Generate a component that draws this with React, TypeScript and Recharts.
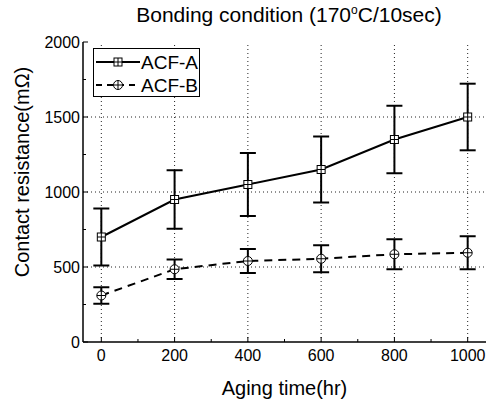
import React from "react";
import {
  ErrorBar,
  Line,
  LineChart,
  ReferenceLine,
  XAxis,
  YAxis,
} from "recharts";

const agingHours = [0, 200, 400, 600, 800, 1000];
const acfA = [700, 950, 1050, 1150, 1350, 1500];
const acfAErr = [190, 195, 210, 220, 225, 222];
const acfB = [310, 485, 540, 555, 585, 595];
const acfBErr = [55, 65, 80, 90, 100, 110];

const xTicks = [0, 100, 200, 300, 400, 500, 600, 700, 800, 900, 1000];
const xMajor = [0, 200, 400, 600, 800, 1000];
const yTicks = [0, 250, 500, 750, 1000, 1250, 1500, 1750, 2000];
const yGrid = [500, 1000, 1500];

const data = agingHours.map((t, i) => ({
  t,
  a: acfA[i],
  aErr: acfAErr[i],
  b: acfB[i],
  bErr: acfBErr[i],
}));

const FONT = "'Liberation Sans', Arial, sans-serif";

function SquareDot({ cx, cy }: any) {
  if (cx == null || cy == null) return null;
  return (
    <g>
      <rect x={cx - 4} y={cy - 4} width={8} height={8} fill="#fff" stroke="#000" strokeWidth={1} />
      <line x1={cx - 4} x2={cx + 4} y1={cy} y2={cy} stroke="#000" strokeWidth={1} />
      <line x1={cx} x2={cx} y1={cy - 4} y2={cy + 4} stroke="#000" strokeWidth={1} />
    </g>
  );
}

function CircleDot({ cx, cy }: any) {
  if (cx == null || cy == null) return null;
  return (
    <g>
      <circle cx={cx} cy={cy} r={4.5} fill="#fff" stroke="#000" strokeWidth={1} />
      <line x1={cx - 4.5} x2={cx + 4.5} y1={cy} y2={cy} stroke="#000" strokeWidth={1} />
      <line x1={cx} x2={cx} y1={cy - 4.5} y2={cy + 4.5} stroke="#000" strokeWidth={1} />
    </g>
  );
}

function XTick({ x, y, payload }: any) {
  const major = xMajor.includes(payload.value);
  return (
    <g>
      <line x1={x} x2={x} y1={y} y2={y - (major ? 5 : 3)} stroke="#000" strokeWidth={1} />
      {major && (
        <text x={x} y={y + 19} textAnchor="middle" fontSize={16} fontFamily={FONT} fill="#000">
          {payload.value}
        </text>
      )}
    </g>
  );
}

function YTick({ x, y, payload }: any) {
  const major = payload.value % 500 === 0;
  return (
    <g>
      <line x1={x} x2={x + (major ? 5 : 3)} y1={y} y2={y} stroke="#000" strokeWidth={1} />
      {major && (
        <text x={x - 3} y={y + 6} textAnchor="end" fontSize={16} fontFamily={FONT} fill="#000">
          {payload.value}
        </text>
      )}
    </g>
  );
}

function LegendBox() {
  return (
    <div
      style={{
        position: "absolute",
        left: 93,
        top: 48,
        width: 107,
        height: 49,
        border: "1px solid #000",
        background: "#fff",
        boxSizing: "border-box",
      }}
    >
      <svg width={105} height={47} style={{ display: "block" }}>
        <line x1={2} x2={46} y1={13} y2={13} stroke="#000" strokeWidth={2} />
        <SquareDot cx={24} cy={13} />
        <text x={47} y={20} fontSize={19} fontFamily={FONT} fill="#000">ACF-A</text>
        <line x1={2} x2={46} y1={36} y2={36} stroke="#000" strokeWidth={2} strokeDasharray="6 5" />
        <CircleDot cx={24} cy={36} />
        <text x={47} y={43} fontSize={19} fontFamily={FONT} fill="#000">ACF-B</text>
      </svg>
    </div>
  );
}

export default function App() {
  return (
    <div style={{ position: "absolute", left: 0, top: 0, width: 488, height: 403, background: "#fff", fontFamily: FONT }}>
      <div
        style={{
          position: "absolute",
          left: 0,
          width: 578,
          top: 3,
          textAlign: "center",
          fontSize: 21,
          color: "#000",
          whiteSpace: "nowrap",
        }}
      >
        Bonding condition (170<sup style={{ fontSize: 12 }}>o</sup>C/10sec)
      </div>
      <div
        style={{
          position: "absolute",
          left: 22,
          top: 172,
          transform: "translate(-50%, -50%) rotate(-90deg)",
          fontSize: 20,
          whiteSpace: "nowrap",
          color: "#000",
        }}
      >
        Contact resistance(mΩ)
      </div>
      <LineChart
        width={488}
        height={403}
        data={data}
        margin={{ top: 42, right: 2, bottom: 0, left: 0 }}
        style={{ position: "absolute", left: 0, top: 0 }}
      >
        <XAxis
          dataKey="t"
          type="number"
          domain={[-50, 1050]}
          ticks={xTicks}
          interval={0}
          tick={<XTick />}
          tickLine={false}
          tickSize={0}
          tickMargin={0}
          height={61}
          allowDataOverflow
          axisLine={{ stroke: "#000", strokeWidth: 1.5 }}
          label={{ value: "Aging time(hr)", position: "insideBottom", offset: 8, fontSize: 20, fill: "#000", fontFamily: FONT }}
        />
        <XAxis
          xAxisId="top"
          orientation="top"
          type="number"
          domain={[-50, 1050]}
          tick={false}
          tickLine={false}
          height={0}
          axisLine={{ stroke: "#000", strokeWidth: 1.5 }}
        />
        <YAxis
          type="number"
          domain={[0, 2000]}
          ticks={yTicks}
          interval={0}
          tick={<YTick />}
          tickLine={false}
          tickSize={0}
          tickMargin={0}
          width={83}
          axisLine={{ stroke: "#000", strokeWidth: 1.5 }}
        />
        <YAxis
          yAxisId="right"
          orientation="right"
          type="number"
          domain={[0, 2000]}
          tick={false}
          tickLine={false}
          width={0}
          axisLine={{ stroke: "#000", strokeWidth: 1.5 }}
        />
        {xMajor.map((v) => (
          <ReferenceLine key={"gx" + v} x={v} stroke="#222" strokeDasharray="1 3" strokeWidth={1} />
        ))}
        {yGrid.map((v) => (
          <ReferenceLine key={"gy" + v} y={v} stroke="#222" strokeDasharray="1 3" strokeWidth={1} />
        ))}
        <Line
          dataKey="a"
          stroke="#000"
          strokeWidth={2}
          dot={<SquareDot />}
          activeDot={false}
          isAnimationActive={false}
        >
          <ErrorBar dataKey="aErr" direction="y" width={8} stroke="#000" strokeWidth={2} />
        </Line>
        <Line
          dataKey="b"
          stroke="#000"
          strokeWidth={2}
          strokeDasharray="8 6"
          dot={<CircleDot />}
          activeDot={false}
          isAnimationActive={false}
        >
          <ErrorBar dataKey="bErr" direction="y" width={8} stroke="#000" strokeWidth={2} />
        </Line>
      </LineChart>
      <LegendBox />
    </div>
  );
}
